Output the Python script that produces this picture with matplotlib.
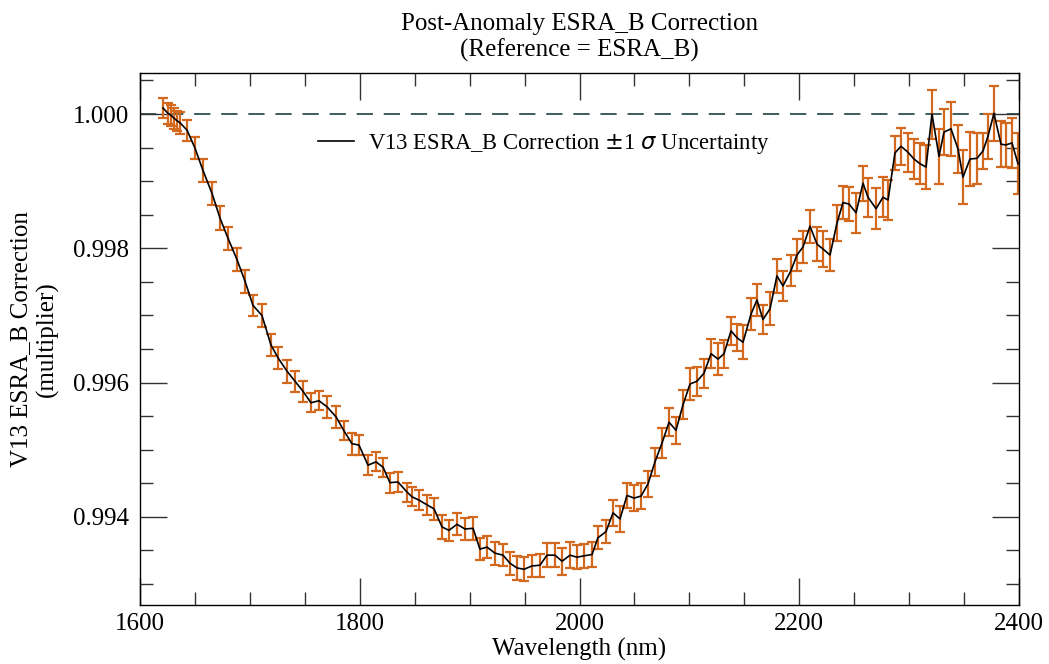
import numpy as np
import matplotlib
matplotlib.use('Agg')
import matplotlib.pyplot as plt
from matplotlib.ticker import MultipleLocator

plt.rcParams['font.family'] = ['Liberation Serif', 'DejaVu Serif']
plt.rcParams['mathtext.fontset'] = 'dejavusans'

# wavelength (nm), correction multiplier, 1-sigma uncertainty (x1e-4)
wavelength = [1620.9, 1625.5, 1628.2, 1630.9, 1633.7, 1636.4, 1642.8, 1650.1, 1657.3, 1665.5,
              1672.8, 1680.1, 1688.3, 1695.6, 1702.8, 1711.0, 1719.2, 1725.6, 1733.8, 1741.1,
              1748.4, 1755.6, 1762.9, 1770.2, 1778.4, 1785.7, 1792.9, 1799.3, 1807.5, 1814.8,
              1821.2, 1827.5, 1834.8, 1843.0, 1847.5, 1853.9, 1861.2, 1867.6, 1874.9, 1881.2,
              1888.5, 1895.8, 1903.1, 1909.4, 1915.8, 1923.1, 1930.4, 1936.7, 1943.1, 1949.5,
              1956.8, 1964.0, 1970.4, 1977.7, 1984.1, 1991.4, 1997.7, 2004.1, 2011.4, 2016.8,
              2024.1, 2030.5, 2036.9, 2043.2, 2049.6, 2056.0, 2062.3, 2068.7, 2075.1, 2081.5,
              2087.8, 2094.2, 2100.6, 2106.9, 2113.3, 2119.7, 2126.1, 2131.5, 2137.9, 2143.3,
              2148.8, 2156.1, 2161.5, 2167.0, 2173.4, 2179.7, 2185.2, 2192.5, 2197.9, 2203.4,
              2209.8, 2216.2, 2221.6, 2228.0, 2234.4, 2239.8, 2245.3, 2251.7, 2258.0, 2262.6,
              2269.9, 2276.2, 2280.8, 2287.1, 2292.6, 2299.0, 2304.4, 2309.9, 2315.4, 2320.8,
              2327.2, 2331.7, 2338.1, 2344.5, 2349.0, 2355.4, 2361.8, 2367.2, 2371.8, 2377.2,
              2383.6, 2388.2, 2393.6, 2399.1]

correction = [1.00009, 1.00001, 0.99998, 0.99994, 0.99990, 0.99987, 0.99976, 0.99949, 0.99916, 0.99882,
              0.99845, 0.99815, 0.99783, 0.99751, 0.99715, 0.99700, 0.99656, 0.99637, 0.99617, 0.99602,
              0.99587, 0.99570, 0.99573, 0.99564, 0.99549, 0.99528, 0.99509, 0.99507, 0.99477, 0.99482,
              0.99474, 0.99451, 0.99452, 0.99437, 0.99430, 0.99425, 0.99418, 0.99412, 0.99385, 0.99380,
              0.99389, 0.99382, 0.99383, 0.99352, 0.99355, 0.99346, 0.99343, 0.99331, 0.99324, 0.99322,
              0.99327, 0.99328, 0.99343, 0.99343, 0.99334, 0.99343, 0.99340, 0.99342, 0.99344, 0.99369,
              0.99378, 0.99406, 0.99397, 0.99432, 0.99428, 0.99431, 0.99449, 0.99482, 0.99510, 0.99541,
              0.99529, 0.99567, 0.99598, 0.99602, 0.99614, 0.99643, 0.99635, 0.99643, 0.99677, 0.99667,
              0.99660, 0.99702, 0.99723, 0.99694, 0.99710, 0.99759, 0.99744, 0.99767, 0.99790, 0.99802,
              0.99833, 0.99806, 0.99799, 0.99790, 0.99838, 0.99868, 0.99866, 0.99853, 0.99897, 0.99876,
              0.99859, 0.99876, 0.99872, 0.99942, 0.99952, 0.99943, 0.99933, 0.99926, 0.99921, 1.00000,
              0.99937, 0.99973, 0.99978, 0.99948, 0.99906, 0.99933, 0.99934, 0.99945, 0.99967, 1.00001,
              0.99955, 0.99954, 0.99957, 0.99926]

sigma_e4 = [1.56, 1.54, 1.61, 1.56, 1.49, 1.66, 1.56, 1.61, 1.66, 1.69,
            1.74, 1.74, 1.69, 1.74, 1.61, 1.69, 1.61, 1.64, 1.69, 1.54,
            1.54, 1.44, 1.44, 1.61, 1.61, 1.41, 1.61, 1.44, 1.49, 1.41,
            1.44, 1.49, 1.49, 1.41, 1.44, 1.54, 1.49, 1.66, 1.74, 1.59,
            1.66, 1.61, 1.69, 1.66, 1.61, 1.69, 1.64, 1.69, 1.79, 1.81,
            1.66, 1.74, 1.74, 1.79, 1.98, 1.91, 1.81, 1.74, 1.86, 1.74,
            1.74, 1.98, 1.98, 1.91, 1.91, 1.91, 1.93, 2.11, 2.23, 2.11,
            2.03, 2.18, 2.36, 2.18, 2.16, 2.16, 2.36, 2.11, 2.11, 2.06,
            2.55, 2.36, 2.43, 2.23, 2.48, 2.48, 2.18, 2.36, 2.41, 2.38,
            2.48, 2.55, 2.65, 2.36, 2.65, 2.48, 2.55, 2.98, 2.63, 2.88,
            3.05, 2.98, 2.98, 2.48, 2.78, 2.90, 3.00, 3.05, 3.22, 3.65,
            4.09, 3.40, 3.99, 3.60, 3.97, 4.09, 3.77, 2.73, 3.35, 4.09,
            3.40, 3.27, 3.72, 4.51]

x = np.array(wavelength)
y = np.array(correction)
err = np.array(sigma_e4) * 1e-4

fig = plt.figure(figsize=(10.49, 6.64), dpi=100)
ax = fig.add_axes([140/1049, 1-605/664, 879/1049, 532/664])

ax.axhline(1.0, color='#2f4f4f', linestyle=(0, (9, 6)), linewidth=1.3, zorder=1)
ax.errorbar(x, y, yerr=err, fmt='none', ecolor='#D2691E', elinewidth=1.6,
            capsize=3.3, capthick=1.6, zorder=2)
ax.plot(x, y, color='black', linewidth=1.2, zorder=3,
        label='V13 ESRA_B Correction $\\pm$1 $\\sigma$ Uncertainty')

ax.set_xlim(1600, 2400)
ax.set_ylim(0.992688, 1.000611)
ax.xaxis.set_major_locator(MultipleLocator(200))
ax.xaxis.set_minor_locator(MultipleLocator(50))
ax.yaxis.set_major_locator(MultipleLocator(0.002))
ax.yaxis.set_minor_locator(MultipleLocator(0.0005))
ax.yaxis.set_major_formatter(matplotlib.ticker.FormatStrFormatter('%.3f'))
ax.tick_params(which='both', direction='in', top=True, right=True, labelsize=18,
               color='#333333', width=1.0)
ax.tick_params(which='major', length=19.5)
ax.tick_params(which='minor', length=9.7)
ax.tick_params(axis='x', which='major', pad=6)
ax.tick_params(axis='y', which='major', pad=8)
for s in ax.spines.values():
    s.set_linewidth(1.0)

ax.set_xlabel('Wavelength (nm)', fontsize=18, labelpad=2)
ax.set_ylabel('V13 ESRA_B Correction\n(multiplier)', fontsize=18, labelpad=10)
ax.set_title('Post-Anomaly ESRA_B Correction\n(Reference = ESRA_B)', fontsize=18, pad=12)

ax.legend(loc='center left', bbox_to_anchor=(0.2025, 0.8665), frameon=False,
          fontsize=16.3, handlelength=1.6, handletextpad=0.6,
          borderpad=0, borderaxespad=0)

fig.savefig('out.png', dpi=100)
